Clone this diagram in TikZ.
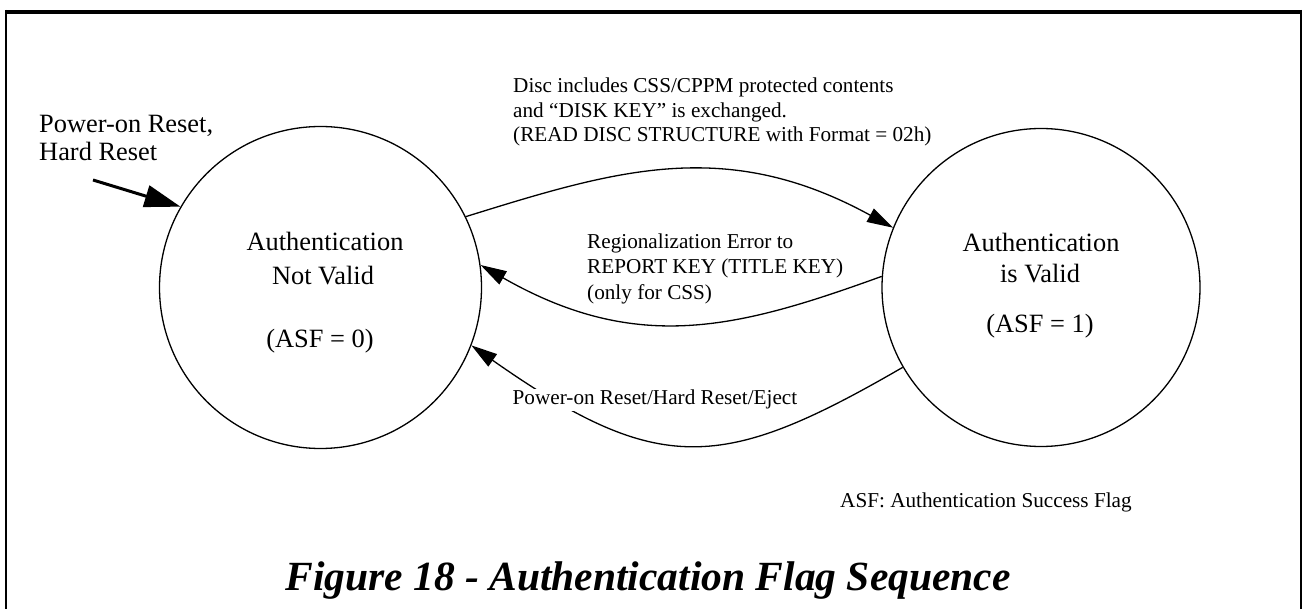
\documentclass[tikz,border=0pt]{standalone}
\usepackage{fontspec}
\setmainfont{Liberation Serif}
\usetikzlibrary{arrows.meta}
\begin{document}
\begin{tikzpicture}[x=1pt,y=-1pt,
  state/.style={circle,draw,line width=1.3pt,inner sep=0pt},
  bigtxt/.style={font=\fontsize{26.4}{30}\selectfont,inner sep=0pt,anchor=base},
  lbl/.style={font=\fontsize{21.2}{25}\selectfont,inner sep=0pt,anchor=base west},
  arc/.style={line width=1.3pt,-{Triangle[length=26pt,width=15pt]}},
  entry/.style={line width=3pt,-{Triangle[length=36pt,width=22pt]}}]
\useasboundingbox (0,0) rectangle (1304,609);
% frame
\draw[line width=4pt] (5,12) -- (1301,12);
\draw[line width=2pt] (5.5,10) -- (5.5,609);
\draw[line width=2pt] (1300.5,10) -- (1300.5,609);
% states
\node[state,minimum size=322pt] (L) at (320.5,287.5) {};
\node[state,minimum size=318pt] (R) at (1041,287.5) {};
\node[bigtxt] (l1) at (325,250.5) {Authentication};
\node[bigtxt] (l2) at (323,285) {Not Valid};
\node[bigtxt] (l3) at (320,348) {(ASF = 0)};
\node[bigtxt] (r1) at (1041,251.5) {Authentication};
\node[bigtxt] (r2) at (1040,283) {is Valid};
\node[bigtxt] (r3) at (1040,332.5) {(ASF = 1)};
% entry
\coordinate (start) at (93,180);
\node[font=\fontsize{26.4}{30}\selectfont,inner sep=0pt,anchor=base west] (p1) at (39,132.5) {Power-on Reset,};
\node[font=\fontsize{26.4}{30}\selectfont,inner sep=0pt,anchor=base west] (p2) at (39,161) {Hard Reset};
\draw[entry] (start) -- (L.150);
% top arc
\draw[arc] (L.26) .. controls (616,170) and (726,136) .. (R.158);
\node[lbl] (t1) at (513,93) {Disc includes CSS/CPPM protected contents};
\node[lbl] (t2) at (513,117.5) {and “DISK KEY” is exchanged.};
\node[lbl] (t3) at (513,142) {(READ DISC STRUCTURE with Format = 02h)};
% middle arc
\draw[arc] (R.176) .. controls (739,328) and (638,355) .. (L.8);
\node[lbl] (m1) at (587,249) {Regionalization Error to};
\node[lbl] (m2) at (587,274) {REPORT KEY (TITLE KEY)};
\node[lbl] (m3) at (587,299.5) {(only for CSS)};
% bottom arc
\draw[arc] (R.210) .. controls (722,472) and (659,477) .. (L.339);
\node[lbl,fill=white,inner sep=1.5pt] (b1) at (511,405) {Power-on Reset/Hard Reset/Eject};
% note
\node[lbl] (n1) at (840,507) {ASF: Authentication Success Flag};
% caption
\node[font=\fontsize{41.5}{46}\selectfont\bfseries\itshape,inner sep=0pt,anchor=base] (cap) at (648,590) {Figure 18 - Authentication Flag Sequence};
\end{tikzpicture}
\end{document}
